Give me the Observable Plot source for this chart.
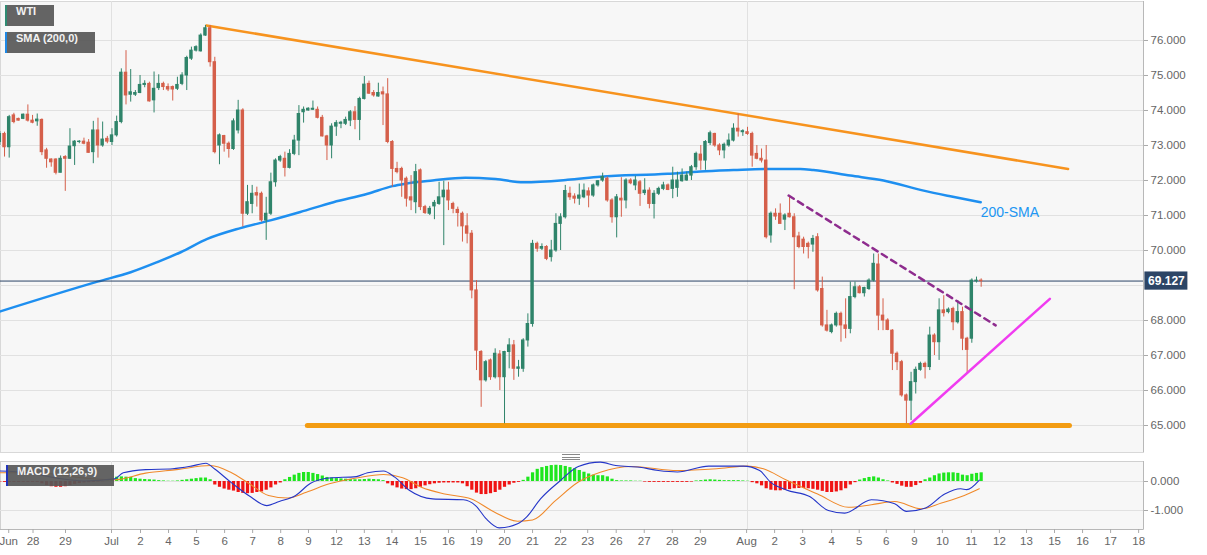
<!DOCTYPE html>
<html>
<head>
<meta charset="utf-8">
<script src="https://cdn.jsdelivr.net/npm/d3@7"></script>
<script src="https://cdn.jsdelivr.net/npm/@observablehq/plot@0.6"></script>
<style>
  body { margin: 0; background: #fff; font-family: "Liberation Sans", Arial, sans-serif; }
  #wrap { position: relative; width: 1207px; height: 555px; overflow: hidden; }
  #main, #macd { position: absolute; left: 0; }
  #main { top: 0; }
  #macd { top: 453px; }
  .tag { position: absolute; height: 21px; line-height: 21px; box-sizing: border-box;
         padding-left: 9px; background: rgba(88,88,88,0.93); color: #f2f2f2;
         font: bold 11px "Liberation Sans", Arial, sans-serif; border-left: 2px solid; }
  .grip { position: absolute; left: 562px; top: 454px; width: 18px; height: 4px;
          border-top: 1px solid #888; border-bottom: 1px solid #888; }
  .grip div { margin-top: 1.5px; border-top: 1px solid #888; }
</style>
</head>
<body>
<div id="wrap">
  <div id="main"></div>
  <div id="macd"></div>
  <div class="tag" style="left:5px;top:5px;width:49px;border-color:#2e8b72">WTI</div>
  <div class="tag" style="left:5px;top:32px;width:90px;border-color:#1e88e5">SMA (200,0)</div>
  <div class="tag" style="left:6px;top:465px;width:108px;border-color:#2233bb">MACD (12,26,9)</div>
  <div class="grip"><div></div></div>
</div>
<script>
// 4h WTI candles, [open, high, low, close], one row per bar
const candles = [
  [73.10,73.40,73.00,73.33],[73.33,73.38,72.67,72.95],[72.95,73.86,72.64,73.81],[73.86,73.92,73.62,73.67],
  [73.76,73.78,73.70,73.71],[73.76,73.90,73.74,73.88],[73.88,74.16,73.67,73.71],[73.71,73.86,73.62,73.65],
  [73.69,73.90,73.55,73.74],[73.73,73.76,72.71,72.81],[72.86,72.92,72.35,72.62],[72.60,72.62,72.38,72.52],
  [72.60,72.62,72.16,72.22],[72.22,72.70,72.22,72.62],[72.67,72.71,71.69,72.62],[72.62,73.48,72.60,72.97],
  [72.98,73.14,72.43,73.11],[73.10,73.14,73.05,73.11],[73.11,73.21,73.02,73.05],[73.08,73.17,72.78,72.79],
  [72.81,73.69,72.48,73.43],[73.43,73.78,72.64,73.00],[73.00,73.67,72.95,73.17],[73.19,73.26,73.05,73.11],
  [73.10,73.48,73.00,73.29],[73.29,73.84,73.24,73.67],[73.67,75.19,73.62,75.08],[75.08,75.71,74.16,74.43],
  [74.45,75.17,74.24,74.52],[74.45,74.57,74.40,74.50],[74.50,75.00,74.48,74.73],[74.73,74.85,74.65,74.76],
  [74.76,74.81,74.24,74.26],[74.29,75.10,73.93,74.62],[74.64,75.02,74.57,74.76],[74.76,74.81,74.57,74.67],
  [74.67,74.76,74.54,74.60],[74.67,74.70,74.27,74.60],[74.62,74.95,74.57,74.73],[74.76,75.08,74.71,75.00],
  [75.00,75.55,74.57,75.50],[75.48,75.81,75.43,75.71],[75.71,75.85,75.67,75.81],[75.69,76.19,75.67,76.14],
  [76.14,76.43,76.12,76.35],[76.35,76.43,75.24,75.38],[75.38,75.52,72.76,72.81],[73.00,73.33,72.45,73.29],
  [73.27,73.29,72.81,73.05],[73.05,73.10,72.64,72.90],[72.90,73.76,72.86,73.69],[73.43,74.29,73.33,74.00],
  [74.00,74.05,70.67,71.05],[71.05,71.86,71.00,71.38],[71.33,71.86,71.05,71.62],[71.64,71.81,71.24,71.57],
  [71.62,71.67,70.81,70.86],[70.86,71.52,70.29,71.05],[71.05,72.21,71.00,71.95],[71.95,72.62,71.81,72.57],
  [72.57,72.72,72.52,72.67],[72.62,72.81,72.10,72.36],[72.36,72.88,72.33,72.76],[72.76,73.29,72.71,73.14],
  [73.14,74.14,72.71,73.90],[73.95,74.10,73.64,74.02],[74.00,74.08,73.98,74.05],[74.02,74.27,74.00,74.05],
  [74.02,74.10,73.76,73.79],[73.79,73.86,73.24,73.26],[73.26,73.29,72.57,73.00],[73.00,73.62,72.62,73.54],
  [73.54,73.71,73.26,73.64],[73.62,73.69,73.48,73.65],[73.62,73.81,73.57,73.73],[73.71,74.00,73.54,73.95],
  [73.95,74.11,73.45,73.73],[73.73,74.38,73.14,74.33],[74.33,74.97,74.30,74.74],[74.76,74.84,74.46,74.48],
  [74.50,74.57,74.38,74.43],[74.40,74.78,74.38,74.50],[74.52,74.67,73.57,74.46],[74.46,74.91,73.05,73.10],
  [73.10,73.14,71.81,72.33],[72.33,72.52,72.19,72.24],[72.33,72.38,71.52,72.00],[72.05,72.10,71.24,71.48],
  [71.52,72.14,71.14,71.43],[71.38,72.46,71.05,72.24],[72.29,72.33,71.14,71.24],[71.24,71.29,71.03,71.07],
  [71.05,71.26,71.00,71.19],[71.26,71.43,70.88,71.36],[71.33,71.95,71.29,71.52],[71.52,71.98,70.14,71.71],
  [71.71,71.95,71.14,71.43],[71.33,71.38,71.05,71.19],[71.16,71.24,70.67,71.07],[71.05,71.10,70.24,70.69],
  [70.69,71.05,70.19,70.48],[70.48,70.57,68.62,68.86],[68.86,69.14,66.57,67.14],[67.10,67.14,65.52,66.29],
  [66.29,66.86,66.24,66.81],[66.86,66.90,66.29,66.38],[66.38,67.19,66.33,67.05],[67.03,67.14,66.00,66.38],
  [66.38,67.12,65.05,67.10],[67.10,67.48,66.62,67.29],[67.29,67.43,66.29,66.62],[66.62,66.86,66.38,66.66],
  [66.62,67.48,66.52,67.43],[67.43,68.19,67.24,67.90],[67.90,70.29,67.81,70.19],[70.19,70.24,69.95,70.05],
  [70.05,70.19,70.00,70.10],[70.10,70.14,69.71,69.76],[69.81,70.29,69.67,70.00],[70.00,71.05,69.95,70.76],
  [70.76,71.05,70.00,70.95],[70.95,71.86,70.90,71.70],[71.62,71.81,71.43,71.52],[71.54,71.62,71.33,71.48],
  [71.48,71.90,71.29,71.57],[71.52,71.90,71.48,71.71],[71.69,71.79,71.22,71.57],[71.57,71.90,71.52,71.86],
  [71.86,72.00,71.81,71.98],[72.00,72.21,71.95,72.10],[72.05,72.10,71.38,71.43],[71.43,71.48,70.78,70.95],
  [70.95,71.60,70.36,71.52],[71.48,72.08,70.95,71.43],[71.43,72.05,71.19,72.00],[72.00,72.05,71.88,71.92],
  [71.86,72.12,71.71,72.00],[71.95,72.00,71.26,71.62],[71.64,72.05,71.57,71.71],[71.71,71.79,71.19,71.33],
  [71.33,71.71,70.90,71.62],[71.62,71.81,71.57,71.76],[71.76,71.95,71.71,71.86],[71.86,71.90,71.71,71.73],
  [71.76,72.38,71.48,72.00],[71.79,72.24,71.52,72.00],[71.98,72.33,71.95,72.14],[72.00,72.24,71.98,72.14],
  [72.14,72.43,72.00,72.38],[72.38,72.81,72.29,72.76],[72.74,73.00,72.29,72.57],[72.57,73.14,72.29,73.10],
  [73.07,73.41,73.00,73.35],[73.33,73.35,72.95,73.00],[73.00,73.05,72.71,72.86],[72.86,73.07,72.62,73.02],
  [73.00,73.33,72.95,73.14],[73.14,73.62,73.10,73.48],[73.48,73.90,73.24,73.40],[73.38,73.45,73.26,73.41],
  [73.38,73.52,73.29,73.33],[73.33,73.38,72.38,72.71],[72.76,73.00,72.59,72.62],[72.62,72.90,72.50,72.57],
  [72.57,73.00,70.33,70.38],[70.43,71.10,70.21,71.05],[71.05,71.19,70.86,70.97],[71.05,71.33,70.76,70.76],
  [70.88,71.05,70.57,71.00],[71.05,71.57,70.93,70.95],[70.95,71.05,68.88,70.38],[70.40,70.52,70.05,70.10],
  [70.31,70.38,69.90,70.10],[70.19,70.24,69.76,70.10],[70.17,70.43,69.95,70.33],[70.38,70.48,68.81,68.86],
  [68.90,69.24,67.81,67.86],[67.86,68.29,67.67,67.71],[67.67,67.90,67.62,67.86],[67.86,68.24,67.81,68.19],
  [68.19,68.24,67.38,67.86],[67.86,68.62,67.48,67.76],[67.76,69.10,67.62,68.67],[68.67,69.10,68.62,68.95],
  [68.95,69.00,68.76,68.78],[68.78,68.95,68.67,68.93],[68.90,69.19,68.86,69.14],[69.14,69.90,69.10,69.62],
  [69.60,69.90,67.71,68.14],[68.14,68.62,67.71,68.00],[68.00,68.05,67.71,67.73],[67.71,67.74,66.57,67.05],
  [67.05,67.10,66.57,66.81],[66.81,66.86,65.81,65.86],[65.86,65.90,65.05,65.71],[65.71,66.52,65.14,66.24],
  [66.24,66.67,65.90,66.59],[66.59,66.81,66.55,66.76],[66.76,66.81,66.33,66.67],[66.67,67.81,66.57,67.57],
  [67.57,67.62,67.00,67.38],[67.38,68.62,66.86,68.29],[68.29,68.71,68.10,68.21],[68.24,68.36,68.19,68.31],
  [68.33,68.38,67.71,67.95],[67.95,68.57,67.90,68.24],[68.24,68.38,67.14,67.48],[67.48,67.52,66.48,67.16],
  [67.48,69.19,67.35,69.14],[69.12,69.24,69.07,69.14],[69.14,69.19,68.95,69.127]
];
const lastPrice = 69.127;

// 200-SMA, [bar index, value]
const sma = [
  [0.1,68.26],[20.9,69.11],[28.0,69.38],[33.7,69.67],[38.7,69.95],[44.4,70.33],[51.5,70.64],
  [57.9,70.86],[64.3,71.10],[71.4,71.38],[78.7,71.62],[84.0,71.84],[86.8,71.91],[92.6,72.00],
  [99.6,72.08],[106.1,72.04],[112.1,71.95],[121.5,72.02],[128.5,72.11],[142.9,72.19],[149.9,72.26],
  [157.0,72.30],[164.3,72.33],[171.3,72.33],[174.1,72.30],[182.0,72.14],[189.1,72.00],[197.7,71.71],
  [203.4,71.55],[209.9,71.38]
];

// MACD line and signal line, [bar index, value]
const macdLine = [
  [0,0.36],[6,0.30],[12,0.12],[18,0.02],[24.5,0.09],[26.4,0.30],[31.2,0.41],[37.0,0.44],[41.0,0.53],
  [44.1,0.63],[45.9,0.44],[49.4,-0.02],[53.4,-0.50],[57.1,-0.83],[59.8,-0.69],[63.3,-0.48],[66.5,-0.06],
  [70.5,0.12],[76.3,0.17],[78.7,0.30],[82.1,0.36],[84.5,0.15],[87.7,-0.31],[92.6,-0.60],[99.2,-0.63],
  [101.8,-0.83],[104.1,-1.29],[106.9,-1.60],[110.8,-1.46],[112.7,-1.23],[115.7,-0.60],[119.8,0.01],
  [123.8,0.52],[128.5,0.67],[131.8,0.55],[136.9,0.49],[140.9,0.38],[145.0,0.33],[151.7,0.53],[159.1,0.53],
  [162.6,0.38],[164.9,-0.02],[168.3,-0.29],[173.3,-0.52],[177.3,-1.00],[180.8,-1.09],[186.5,-0.63],
  [191.5,-0.77],[194.0,-1.03],[198.1,-0.91],[202.2,-0.43],[205.6,-0.25],[206.9,-0.28],[209.6,0.05]
];
const signalLine = [
  [0,0.30],[6,0.30],[12,0.25],[18,0.12],[24.5,0.06],[31.2,0.29],[37.8,0.41],[45.1,0.55],[49.4,0.32],
  [53.4,-0.08],[57.5,-0.48],[61.6,-0.57],[65.6,-0.37],[70.5,-0.08],[76.3,0.12],[82.1,0.24],[86.2,0.13],
  [90.2,-0.20],[95.2,-0.43],[100.9,-0.60],[105.9,-1.06],[110.8,-1.37],[114.0,-1.33],[118.9,-0.66],
  [123.8,-0.02],[128.5,0.32],[135.2,0.52],[145.0,0.38],[153.4,0.44],[160.0,0.53],[163.4,0.44],[168.3,0.05],
  [175.0,-0.43],[181.6,-0.89],[186.5,-0.80],[191.5,-0.69],[197.2,-0.94],[201.5,-0.74],[206.4,-0.48],
  [209.6,-0.25]
];
// histogram, one value per bar
const hist = [
  -0.02,-0.03,-0.03,-0.03,-0.03,-0.03,-0.03,-0.03,-0.03,-0.08,
  -0.14,-0.18,-0.20,-0.20,-0.18,-0.14,-0.10,-0.07,-0.05,-0.04,
  -0.03,-0.02,-0.01,0.01,0.03,0.15,0.16,0.15,0.14,0.10,
  0.08,0.07,0.06,0.05,0.03,0.02,0.01,0.01,0.02,0.04,
  0.06,0.08,0.10,0.12,0.12,0.06,-0.12,-0.20,-0.26,-0.30,
  -0.33,-0.38,-0.41,-0.42,-0.41,-0.38,-0.36,-0.30,-0.22,-0.12,
  -0.05,0.06,0.14,0.22,0.28,0.31,0.31,0.28,0.24,0.19,
  0.14,0.12,0.10,0.09,0.08,0.07,0.06,0.06,0.07,0.08,
  0.07,0.06,0.03,-0.08,-0.15,-0.22,-0.26,-0.28,-0.28,-0.25,
  -0.20,-0.15,-0.11,-0.08,-0.06,-0.05,-0.05,-0.05,-0.05,-0.08,
  -0.18,-0.30,-0.40,-0.45,-0.45,-0.42,-0.38,-0.30,-0.20,-0.12,
  -0.06,-0.03,0.04,0.15,0.30,0.42,0.48,0.52,0.55,0.56,
  0.55,0.52,0.48,0.44,0.38,0.32,0.26,0.22,0.20,0.20,
  0.16,0.08,0.03,0.02,0.02,0.02,0.01,0.01,-0.02,-0.03,
  -0.03,-0.03,-0.03,-0.03,-0.03,-0.03,-0.03,-0.03,-0.02,0.02,
  0.03,0.05,0.06,0.05,0.04,0.03,0.03,0.03,0.03,0.02,
  0.01,-0.04,-0.08,-0.15,-0.25,-0.30,-0.32,-0.32,-0.30,-0.28,
  -0.25,-0.24,-0.24,-0.25,-0.27,-0.30,-0.34,-0.38,-0.38,-0.36,
  -0.32,-0.25,-0.12,-0.04,0.05,0.10,0.14,0.16,0.12,0.06,
  0.02,-0.05,-0.10,-0.16,-0.20,-0.20,-0.14,-0.06,0.06,0.12,
  0.20,0.26,0.29,0.30,0.30,0.28,0.22,0.20,0.25,0.28,
  0.30
];

// drawn lines, [bar index, price]
const resistance = [[44.2,76.43],[228.6,72.33]];
const support = [[65.8,65.0],[228.9,65.0]];
const dashedTrend = [[168.8,71.57],[213.1,67.86]];
const risingTrend = [[194.9,65.05],[224.7,68.62]];
const smaLabel = [[209.9,71.09,"200-SMA"]];

// axes
const priceGrid = [65,66,67,68,69,70,71,72,73,74,75,76];
const priceTicks = [65,66,67,68,70,71,72,73,74,75,76]; // 69 sits under the last-price box
const macdTicks = [0,-1];
const monthIdx = [23.9, 160.0];
const xTicks = [1.9,7.1,14.05,23.9,30.1,36.1,42.1,48.1,54.1,60.1,66.05,72.05,78,83.9,90,96,102,108,114,120,
  125.8,131.9,137.9,143.9,149.9,159.8,165.8,171.8,178,183.9,189.7,195.7,201.7,207.9,213.9,219.7,225.7,231.7,237.7,243.7];
const xLabels = ["Jun","28","29","Jul","2","4","5","6","7","8","9","12","13","14","15","16","19","20","21","22",
  "23","26","27","28","29","Aug","2","3","4","5","6","9","10","11","12","13","15","16","17","18"];

const W = 1207;
const xDom = [0.14, 244.74];
const GREEN = "#2f846a", RED = "#d55f4a";
const font = "Liberation Sans, Arial, sans-serif";

const bars = candles.map((d, i) => ({i, o: d[0], h: d[1], l: d[2], c: d[3]}));
const col = d => d.c >= d.o ? GREEN : RED;
const labelOf = new Map(xTicks.map((t, k) => [t, xLabels[k]]));

const chart = Plot.plot({
  width: W, height: 453,
  marginLeft: 0, marginRight: 64, marginTop: 1, marginBottom: 1,
  style: {background: "transparent", fontFamily: font, overflow: "visible"},
  x: {domain: xDom, axis: null},
  y: {domain: [64.229, 77.114], axis: null},
  marks: [
    Plot.frame({fill: "#f7f7f7", stroke: "#d8d8d8"}),
    Plot.ruleY(priceGrid, {stroke: "#e1e1e1"}),
    Plot.ruleX(monthIdx, {stroke: "#e1e1e1"}),
    Plot.ruleX([xDom[1]], {stroke: "#b8b8b8"}),
    Plot.axisY(priceTicks, {anchor: "right", label: null, tickFormat: d => d.toFixed(3), tickSize: 4, tickPadding: 3,
      stroke: "#aaa", fill: "#666", fontSize: 11.5}),
    Plot.line(sma, {x: "0", y: "1", curve: "monotone-x", stroke: "#1e8ff0", strokeWidth: 2.5}),
    Plot.line(resistance, {x: "0", y: "1", stroke: "#f7931e", strokeWidth: 2.5}),
    Plot.line(support, {x: "0", y: "1", stroke: "#f39c12", strokeWidth: 5}),
    Plot.ruleY([lastPrice], {stroke: "#2a4466", strokeWidth: 1}),
    Plot.ruleX(bars, {x: "i", y1: "l", y2: "h", stroke: col, strokeWidth: 1}),
    Plot.rect(bars, {x1: d => d.i - 0.37, x2: d => d.i + 0.37,
      y1: d => Math.min(d.o, d.c), y2: d => Math.max(d.o, d.c),
      insetTop: -0.5, insetBottom: -0.5, fill: col}),
    Plot.line(dashedTrend, {x: "0", y: "1", stroke: "#8e2c8e", strokeWidth: 2.5, strokeDasharray: "6,5"}),
    Plot.line(risingTrend, {x: "0", y: "1", stroke: "#f03cf0", strokeWidth: 2.5}),
    Plot.text(smaLabel, {x: "0", y: "1", text: "2", textAnchor: "start", fill: "#2196f3", fontSize: 14}),
    Plot.rect([lastPrice], {x1: xDom[1] + 0.3, x2: xDom[1] + 9.5, y1: d => d - 0.26, y2: d => d + 0.26, fill: "#2c4566"}),
    Plot.text([lastPrice], {x: xDom[1] + 4.9, y: d => d, text: d => d.toFixed(3), fill: "#fff",
      fontWeight: "bold", fontSize: 12})
  ]
});
d3.select("#main").append(() => chart);

const macd = Plot.plot({
  width: W, height: 102,
  marginLeft: 0, marginRight: 64, marginTop: 8, marginBottom: 26,
  style: {background: "transparent", fontFamily: font, overflow: "visible"},
  x: {domain: xDom, axis: null},
  y: {domain: [-1.655, 0.69], axis: null},
  marks: [
    Plot.frame({fill: "#f7f7f7", stroke: "#d0d0d0"}),
    Plot.ruleY(macdTicks, {stroke: "#e1e1e1"}),
    Plot.ruleX(monthIdx, {stroke: "#e1e1e1"}),
    Plot.ruleX([xDom[1]], {stroke: "#b8b8b8"}),
    Plot.ruleX(hist, {x: (d, i) => i, y1: 0, y2: d => d, stroke: d => d >= 0 ? "#1ee61e" : "#f01414", strokeWidth: 3.2}),
    Plot.line(signalLine, {x: "0", y: "1", curve: "monotone-x", stroke: "#f0892a", strokeWidth: 1.1}),
    Plot.line(macdLine, {x: "0", y: "1", curve: "monotone-x", stroke: "#2536c8", strokeWidth: 1.1}),
    Plot.axisY(macdTicks, {anchor: "right", label: null, tickFormat: d => d.toFixed(3), tickSize: 4, tickPadding: 3,
      stroke: "#aaa", fill: "#666", fontSize: 11.5}),
    Plot.ruleY([-1.655], {stroke: "#b8b8b8"}),
    Plot.axisX(xTicks, {anchor: "bottom", label: null, tickFormat: d => labelOf.get(d), tickSize: 4, tickPadding: 3,
      stroke: "#aaa", fill: "#666", fontSize: 11.5})
  ]
});
d3.select("#macd").append(() => macd);
</script>
</body>
</html>
